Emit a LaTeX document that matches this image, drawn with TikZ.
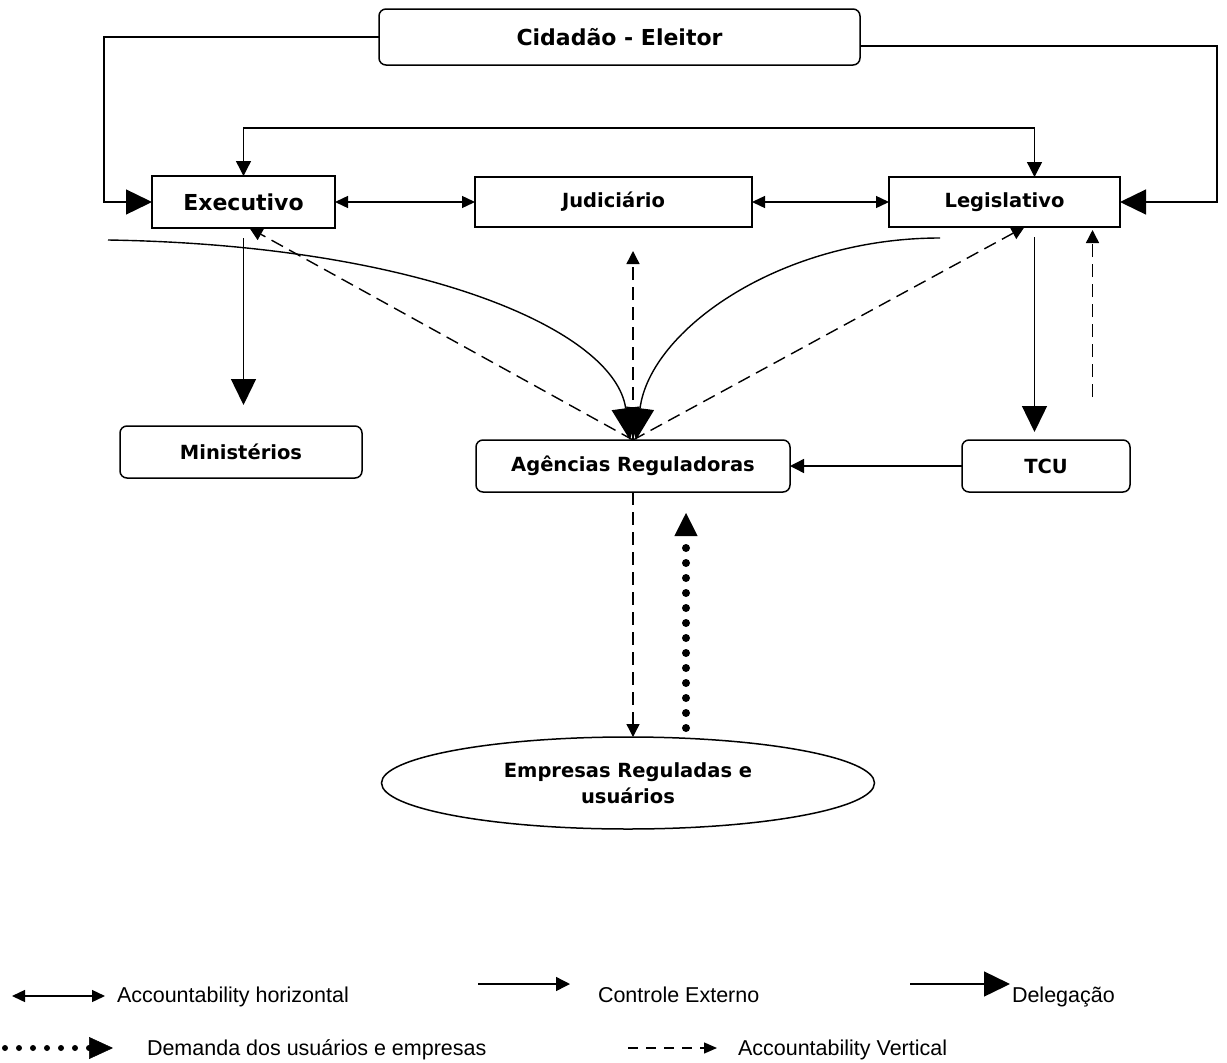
\documentclass[tikz,border=0pt]{standalone}
\usepackage{fontspec}
\setmainfont{Liberation Sans}
\newfontfamily\bxf{DejaVu Sans}
\usetikzlibrary{arrows.meta,shapes.geometric,calc}
\begin{document}
\begin{tikzpicture}[x=1pt,y=-1pt,
  every node/.style={inner sep=0pt, outer sep=0pt},
  box/.style={draw, line width=1.5pt, font=\bxf\bfseries\fontsize{19.5}{26}\selectfont, align=center},
  bigtxt/.style={font=\bxf\bfseries\fontsize{22}{26}\selectfont},
  rbox/.style={box, rounded corners=7pt},
  ln/.style={line width=1.4pt},
  ahz/.style={ln, {Triangle[length=13pt,width=12pt]}-{Triangle[length=13pt,width=12pt]}},
  ctl/.style={ln, -{Triangle[length=14pt,width=14pt]}},
  ctlb/.style={ln, {Triangle[length=15pt,width=15pt]}-{Triangle[length=15pt,width=15pt]}},
  dlg/.style={ln, -{Triangle[length=26pt,width=25pt]}},
  dlgc/.style={ln, -{Triangle[length=32pt,width=28pt]}},
  vrt/.style={ln, dash pattern=on 13pt off 7pt, -{Triangle[length=13pt,width=13pt]}},
  dmd/.style={line width=8pt, line cap=round, dash pattern=on 0pt off 15pt, -{Triangle[length=23pt,width=23pt,line width=0.5pt]}},
  lgt/.style={font=\fontsize{21.5}{25}\selectfont, anchor=base west}
]
\useasboundingbox (0,0) rectangle (1227,1063);

% nodes
\node[rbox, bigtxt, minimum width=481pt, minimum height=56pt] (cid) at (619.5,37) {Cidadão - Eleitor};
\node[box, bigtxt, minimum width=183pt, minimum height=52pt] (exe) at (243.5,202) {Executivo};
\node[box, minimum width=277pt, minimum height=50pt] (jud) at (613.5,202) {Judiciário};
\node[box, minimum width=231pt, minimum height=50pt] (leg) at (1004.5,202) {Legislativo};
\node[rbox, minimum width=242pt, minimum height=52pt] (min) at (241,452) {Ministérios};
\node[rbox, minimum width=314pt, minimum height=52pt] (age) at (633,466) {Agências Reguladoras};
\node[rbox, minimum width=168pt, minimum height=52pt] (tcu) at (1046,466) {TCU};
\node[ellipse, draw, line width=1.5pt, minimum width=493pt, minimum height=92pt,
      font=\bxf\bfseries\fontsize{19.5}{26}\selectfont, align=center] (emp) at (628,783) {Empresas Reguladas e\\usuários};

% free coordinates
\coordinate (lc) at (104,37);
\coordinate (rc) at (1217,46);
\coordinate (tl) at (243.5,128);
\coordinate (c1) at (108,240);
\coordinate (c2) at (940,238);

% connectors
\draw[dlg] (cid.west) -- (lc) |- (exe.west);
\draw[dlg] ([yshift=-9pt]cid.east) -- (rc) |- (leg.east);
\draw[ctlb] (exe.north) -- (tl) -| ([xshift=30pt]leg.north);
\draw[ahz] (exe.east) -- (jud.west);
\draw[ahz] (jud.east) -- (leg.west);
\draw[dlg, shorten <=10pt, shorten >=21pt] (exe.south) -- (exe.south |- min.north);
\draw[dlgc] (c1) .. controls (420,245) and (615,330) .. ([xshift=-3pt]age.north);
\draw[dlgc] (c2) .. controls (780,238) and (650,330) .. ([xshift=3pt]age.north);
\draw[vrt] (age.north) -- ([xshift=6pt]exe.south);
\draw[vrt] (age.north) -- ([xshift=20pt]leg.south);
\draw[vrt, shorten >=24pt] (age.north) -- (age.north |- jud.south);
\draw[dlg, shorten <=10pt, shorten >=8pt] ([xshift=30pt]leg.south) -- ([xshift=30pt]leg.south |- tcu.north);
\draw[vrt, shorten <=43pt, shorten >=3pt] ([xshift=88pt]leg.south |- tcu.north) -- ([xshift=88pt]leg.south);
\draw[ctl] (tcu.west) -- (age.east);
\draw[vrt] (age.south) -- (age.south |- emp.north);
\draw[dmd, shorten <=9pt, shorten >=21pt] ([xshift=53pt]age.south |- emp.north) -- ([xshift=53pt]age.south);

% legend
\coordinate (l1a) at (12,996);   \coordinate (l1b) at (105,996);
\coordinate (l2a) at (478,984);  \coordinate (l2b) at (570,984);
\coordinate (l3a) at (910,984);  \coordinate (l3b) at (1010,984);
\coordinate (l4a) at (5,1048);   \coordinate (l4b) at (113,1048);
\coordinate (l5a) at (628,1048); \coordinate (l5b) at (717,1048);
\draw[ahz] (l1a) -- (l1b);
\draw[ctl] (l2a) -- (l2b);
\draw[dlg] (l3a) -- (l3b);
\draw[line width=6pt, line cap=round, dash pattern=on 0pt off 14pt, -{Triangle[length=24pt,width=22pt,line width=0.5pt]}] (l4a) -- (l4b);
\draw[ln, dash pattern=on 10pt off 8pt, -{Triangle[length=13pt,width=11pt]}] (l5a) -- (l5b);
\node[lgt] (t1) at (117,1002) {Accountability horizontal};
\node[lgt] (t2) at (598,1002) {Controle Externo};
\node[lgt] (t3) at (1012,1002) {Delegação};
\node[lgt] (t4) at (147,1055) {Demanda dos usuários e empresas};
\node[lgt] (t5) at (738,1055) {Accountability Vertical};
\end{tikzpicture}
\end{document}
